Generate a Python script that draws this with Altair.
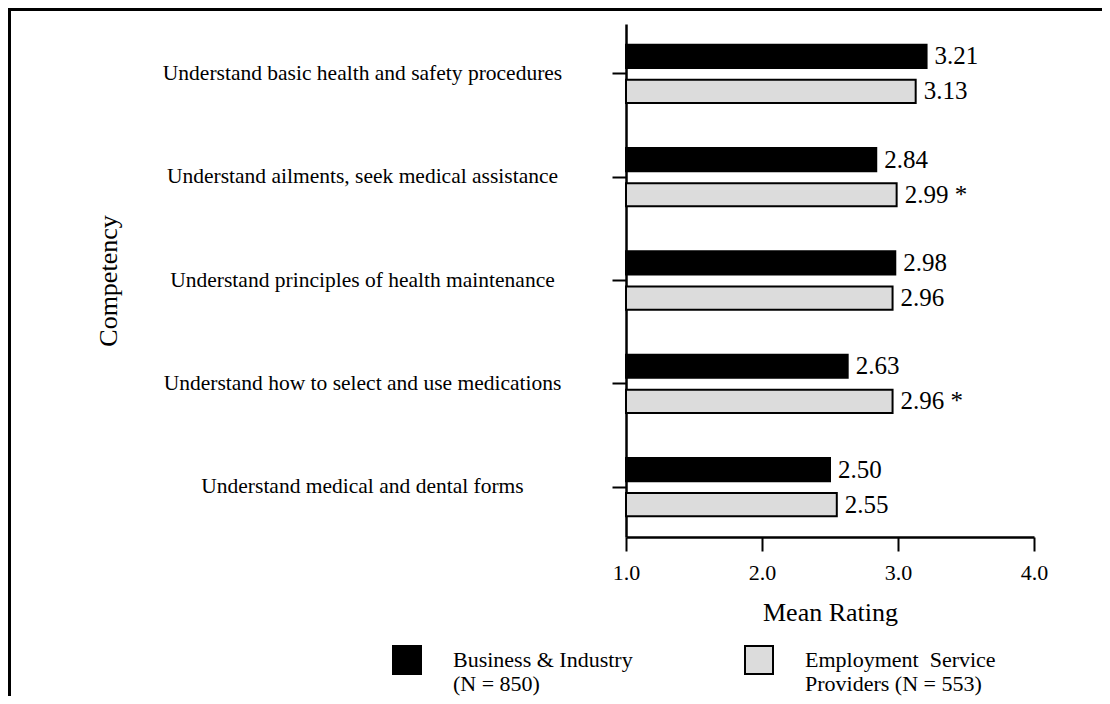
import altair as alt
import pandas as pd

competencies = [
    "Understand basic health and safety procedures",
    "Understand ailments, seek medical assistance",
    "Understand principles of health maintenance",
    "Understand how to select and use medications",
    "Understand medical and dental forms",
]
series = ["Business & Industry (N = 850)", "Employment Service Providers (N = 553)"]
legend_lines = [["Business & Industry", "(N = 850)"], ["Employment\u00a0 Service", "Providers (N = 553)"]]
business = [3.21, 2.84, 2.98, 2.63, 2.50]
esp = [3.13, 2.99, 2.96, 2.96, 2.55]
esp_marks = ["", "*", "", "*", ""]
x_ticks = [1.0, 2.0, 3.0, 4.0]

rows = []
for c, b, e, m in zip(competencies, business, esp, esp_marks):
    rows.append(dict(competency=c, series=series[0], value=b, label=f"{b:.2f}", base=1.0))
    rows.append(dict(competency=c, series=series[1], value=e,
                     label=f"{e:.2f}" + (" " + m if m else ""), base=1.0))
df = pd.DataFrame(rows)

FONT = "Liberation Serif"

label_expr = (
    "datum.label == '" + series[0] + "' ? ['" + "','".join(legend_lines[0]) + "'] : ['"
    + "','".join(legend_lines[1]) + "']"
)

y_enc = alt.Y(
    "competency:N", sort=competencies,
    scale=alt.Scale(paddingInner=0.435),
    axis=alt.Axis(title="Competency", labelAlign="center", labelPadding=250, labelLimit=600,
                  labelFontSize=21.5, tickSize=14, titleFontSize=26, titleX=-505, titleY=256.5,
                  titleFontWeight="normal"),
)
yoff = alt.YOffset("series:N", sort=series, scale=alt.Scale(paddingInner=0.34, paddingOuter=0))
x_enc = alt.X(
    "value:Q",
    scale=alt.Scale(domain=[1, 4], zero=False, nice=False),
    axis=alt.Axis(values=x_ticks, format=".1f", title="Mean Rating", labelFontSize=22,
                  labelFlush=False, tickSize=14, labelPadding=11, titleFontSize=26,
                  titlePadding=16, titleFontWeight="normal"),
)

bars = alt.Chart(df).mark_bar(stroke="black", strokeWidth=2).encode(
    y=y_enc,
    yOffset=yoff,
    x=x_enc,
    x2="base:Q",
    fill=alt.Fill(
        "series:N",
        scale=alt.Scale(domain=series, range=["#000000", "#dcdcdc"]),
        legend=alt.Legend(
            title=None, orient="none", legendX=-234, legendY=621, direction="horizontal",
            symbolType="square", symbolSize=784, symbolStrokeColor="black",
            symbolStrokeWidth=2, symbolOpacity=1, labelFontSize=22, labelFont=FONT,
            labelColor="black", labelOffset=31, columnPadding=108, labelLimit=400,
            labelExpr=label_expr,
        ),
    ),
)

texts = alt.Chart(df).mark_text(align="left", baseline="middle", dx=8, fontSize=25,
                                font=FONT, color="black").encode(
    y=alt.Y("competency:N", sort=competencies),
    yOffset=alt.YOffset("series:N", sort=series),
    x=alt.X("value:Q"),
    text="label:N",
)

frame_df = pd.DataFrame({"k": [0]})
left_line = alt.Chart(frame_df).mark_rule(color="black", strokeWidth=3).encode(
    x=alt.value(-616.5), y=alt.value(-16), y2=alt.value(700)
)
top_line = alt.Chart(frame_df).mark_rule(color="black", strokeWidth=3).encode(
    x=alt.value(-618), x2=alt.value(520), y=alt.value(-14.5)
)

chart = alt.layer(bars, texts, left_line, top_line).properties(
    width=408, height=513,
    autosize=alt.AutoSizeParams(type="none"),
    padding={"left": 618, "top": 16, "right": 68, "bottom": 159},
    background="white",
).configure_axis(
    domainColor="black", domainWidth=2.5, tickColor="black", tickWidth=2,
    labelColor="black", titleColor="black", grid=False, labelFont=FONT, titleFont=FONT,
).configure_view(stroke=None)

chart.save("out.html", embed_options={"renderer": "svg", "actions": False})
